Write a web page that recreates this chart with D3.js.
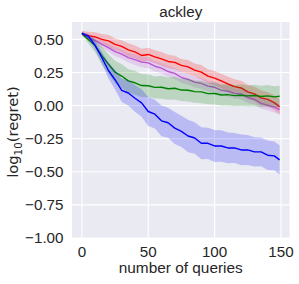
<!DOCTYPE html>
<html>
<head>
<meta charset="utf-8">
<script src="https://cdn.jsdelivr.net/npm/d3@7"></script>
<style>
  body { margin: 0; background: #fff; }
  svg text { font-family: "Liberation Sans", Arial, sans-serif; fill: #262626; }
</style>
</head>
<body>
<div class="chart"></div>
<script>
const queries = [0, 5, 10, 15, 20, 25, 30, 35, 40, 45, 50, 55, 60, 65, 70, 75, 80, 85, 90, 95, 100, 105, 110, 115, 120, 125, 130, 135, 140, 145, 149];

const redMean = [0.545, 0.528, 0.518, 0.50, 0.488, 0.462, 0.447, 0.42, 0.405, 0.378, 0.386, 0.368, 0.352, 0.333, 0.326, 0.303, 0.292, 0.268, 0.252, 0.222, 0.207, 0.186, 0.163, 0.143, 0.133, 0.103, 0.088, 0.058, 0.047, 0.022, -0.01];
const redSpread = [0.02, 0.03, 0.036, 0.04, 0.046, 0.044, 0.047, 0.05, 0.048, 0.051, 0.05, 0.049, 0.052, 0.05, 0.051, 0.049, 0.052, 0.05, 0.055, 0.053, 0.056, 0.054, 0.056, 0.055, 0.054, 0.056, 0.055, 0.057, 0.055, 0.056, 0.055];

const violetMean = [0.545, 0.508, 0.492, 0.462, 0.438, 0.407, 0.388, 0.362, 0.347, 0.328, 0.322, 0.297, 0.283, 0.257, 0.243, 0.212, 0.198, 0.177, 0.168, 0.147, 0.138, 0.117, 0.108, 0.092, 0.087, 0.062, 0.048, 0.017, 0.003, -0.012, -0.03];
const violetSpread = [0.015, 0.02, 0.026, 0.03, 0.031, 0.035, 0.034, 0.037, 0.04, 0.038, 0.041, 0.04, 0.039, 0.041, 0.04, 0.042, 0.04, 0.039, 0.041, 0.04, 0.042, 0.04, 0.041, 0.039, 0.04, 0.042, 0.04, 0.041, 0.04, 0.041, 0.04];

const greenMean = [0.545, 0.497, 0.453, 0.377, 0.313, 0.252, 0.223, 0.186, 0.172, 0.151, 0.15, 0.137, 0.138, 0.127, 0.131, 0.117, 0.116, 0.105, 0.103, 0.09, 0.091, 0.08, 0.083, 0.075, 0.078, 0.073, 0.076, 0.069, 0.073, 0.066, 0.07];
const greenSpread = [0.01, 0.03, 0.05, 0.066, 0.074, 0.086, 0.09, 0.088, 0.091, 0.087, 0.086, 0.083, 0.087, 0.084, 0.086, 0.083, 0.086, 0.084, 0.085, 0.081, 0.083, 0.079, 0.082, 0.08, 0.081, 0.079, 0.081, 0.08, 0.082, 0.079, 0.08];

const blueMean = [0.545, 0.522, 0.455, 0.363, 0.265, 0.195, 0.115, 0.095, 0.055, 0.02, -0.045, -0.065, -0.115, -0.13, -0.17, -0.195, -0.23, -0.245, -0.285, -0.285, -0.305, -0.305, -0.32, -0.32, -0.335, -0.335, -0.35, -0.35, -0.375, -0.38, -0.41];
const blueSpread = [0.01, 0.02, 0.031, 0.044, 0.061, 0.074, 0.088, 0.094, 0.101, 0.104, 0.11, 0.108, 0.116, 0.113, 0.121, 0.118, 0.122, 0.119, 0.121, 0.118, 0.121, 0.119, 0.116, 0.113, 0.116, 0.113, 0.111, 0.108, 0.111, 0.109, 0.11];

const xTicks = [0, 50, 100, 150];
const yTicks = [-1.0, -0.75, -0.5, -0.25, 0.0, 0.25, 0.5];

const series = [
  { name: 'red', color: '#ff0000', mean: redMean, spread: redSpread },
  { name: 'violet', color: '#ba55d3', mean: violetMean, spread: violetSpread },
  { name: 'green', color: '#008000', mean: greenMean, spread: greenSpread },
  { name: 'blue', color: '#0000ff', mean: blueMean, spread: blueSpread }
];

const width = 299, height = 284;
const margin = { top: 22, right: 9.5, bottom: 46, left: 72 };

const x = d3.scaleLinear()
  .domain([-7.45, 156.45])
  .range([margin.left, width - margin.right]);

const y = d3.scaleLinear()
  .domain([-1.0, 0.631])
  .range([height - margin.bottom, margin.top]);

const svg = d3.select('.chart').append('svg')
  .attr('width', width)
  .attr('height', height);

svg.append('rect')
  .attr('x', margin.left)
  .attr('y', margin.top)
  .attr('width', width - margin.left - margin.right)
  .attr('height', height - margin.top - margin.bottom)
  .attr('fill', '#eaeaf2');

// grid
svg.append('g')
  .selectAll('line')
  .data(xTicks)
  .enter()
  .append('line')
  .attr('x1', d => x(d)).attr('x2', d => x(d))
  .attr('y1', margin.top).attr('y2', height - margin.bottom)
  .attr('stroke', '#fff')
  .attr('stroke-width', 1.1);

svg.append('g')
  .selectAll('line')
  .data(yTicks)
  .enter()
  .append('line')
  .attr('x1', margin.left).attr('x2', width - margin.right)
  .attr('y1', d => y(d)).attr('y2', d => y(d))
  .attr('stroke', '#fff')
  .attr('stroke-width', 1.1);

const area = d3.area()
  .x(d => x(d.q))
  .y0(d => y(d.m - d.s))
  .y1(d => y(d.m + d.s));

const line = d3.line()
  .x(d => x(d.q))
  .y(d => y(d.m));

series.forEach(s => {
  let pts = queries.map((q, i) => ({ q: q, m: s.mean[i], s: s.spread[i] }));

  svg.append('path')
    .datum(pts)
    .attr('d', area)
    .attr('fill', s.color)
    .attr('fill-opacity', 0.2)
    .attr('stroke', 'none');

  svg.append('path')
    .datum(pts)
    .attr('d', line)
    .attr('fill', 'none')
    .attr('stroke', s.color)
    .attr('stroke-width', 1.4)
    .attr('stroke-linejoin', 'round');
});

// tick labels
svg.append('g')
  .selectAll('text')
  .data(xTicks)
  .enter()
  .append('text')
  .attr('x', d => x(d))
  .attr('y', 257)
  .attr('text-anchor', 'middle')
  .style('font-size', '15.2px')
  .text(d => d);

svg.append('g')
  .selectAll('text')
  .data(yTicks)
  .enter()
  .append('text')
  .attr('x', 63.5)
  .attr('y', d => y(d) + 5.3)
  .attr('text-anchor', 'end')
  .style('font-size', '15.2px')
  .text(d => d3.format('.2f')(d).replace('-', '\u2212'));

// title
svg.append('text')
  .attr('x', (margin.left + width - margin.right) / 2)
  .attr('y', 17)
  .attr('text-anchor', 'middle')
  .style('font-size', '15.2px')
  .text('ackley');

// x label
svg.append('text')
  .attr('x', (margin.left + width - margin.right) / 2)
  .attr('y', 273)
  .attr('text-anchor', 'middle')
  .style('font-size', '15.4px')
  .text('number of queries');

// y label
let yl = svg.append('text')
  .attr('transform', 'translate(18.3,132) rotate(-90)')
  .attr('text-anchor', 'middle')
  .style('font-family', '"DejaVu Sans", sans-serif')
  .style('font-size', '14.7px');
yl.append('tspan').text('log');
yl.append('tspan').attr('dy', 3.5).style('font-size', '10.3px').text('10');
yl.append('tspan').attr('dy', -3.5).text('(regret)');
</script>
</body>
</html>
